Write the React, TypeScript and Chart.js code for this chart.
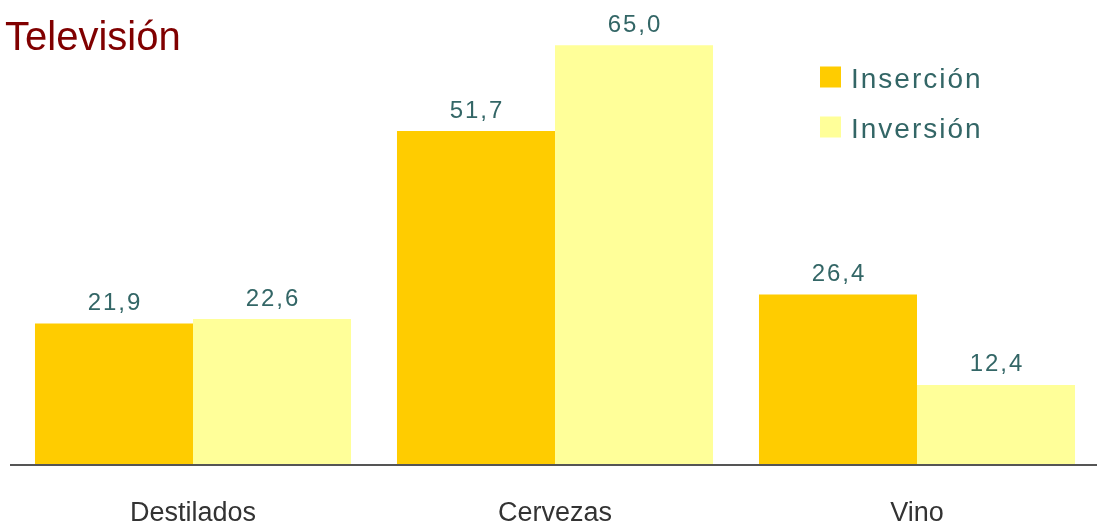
import React, { useEffect, useRef } from "react";
import { Chart, registerables } from "chart.js";

Chart.register(...registerables);

const categories = ["Destilados", "Cervezas", "Vino"];
const seriesNames = ["Inserción", "Inversión"];
const insercion = [21.9, 51.7, 26.4];
const inversion = [22.6, 65.0, 12.4];
const seriesColors = ["#FFCC00", "#FFFF99"];
const titleText = "Televisión";

const FONT = "'Liberation Sans', Arial, sans-serif";

const overlayPlugin = {
  id: "overlay",
  afterDraw(chart: any) {
    const ctx = chart.ctx as CanvasRenderingContext2D;
    const area = chart.chartArea;
    ctx.save();
    // axis line
    ctx.strokeStyle = "#555555";
    ctx.lineWidth = 2;
    ctx.beginPath();
    ctx.moveTo(10, area.bottom);
    ctx.lineTo(1097, area.bottom);
    ctx.stroke();

    // title
    ctx.fillStyle = "#800000";
    ctx.font = `40px ${FONT}`;
    ctx.textAlign = "left";
    ctx.textBaseline = "alphabetic";
    ctx.fillText(titleText, 5, 50);

    // legend
    const legendY = [87.5, 137.5];
    ctx.font = `28px ${FONT}`;
    (ctx as any).letterSpacing = "2px";
    seriesNames.forEach((name, i) => {
      ctx.fillStyle = seriesColors[i];
      ctx.fillRect(820, legendY[i] - 21, 21, 21);
      ctx.fillStyle = "#336666";
      ctx.fillText(name, 851, legendY[i]);
    });

    // data labels
    ctx.font = `24px ${FONT}`;
    (ctx as any).letterSpacing = "2px";
    ctx.textAlign = "center";
    ctx.fillStyle = "#336666";
    chart.data.datasets.forEach((ds: any, di: number) => {
      const meta = chart.getDatasetMeta(di);
      meta.data.forEach((bar: any, i: number) => {
        const v = ds.data[i] as number;
        const txt = v.toFixed(1).replace(".", ",");
        ctx.fillText(txt, bar.x + 1, bar.y - 13.5);
      });
    });
    ctx.restore();
  },
};

export default function App() {
  const ref = useRef<HTMLCanvasElement | null>(null);
  useEffect(() => {
    if (!ref.current) return;
    const chart = new Chart(ref.current, {
      type: "bar",
      data: {
        labels: categories,
        datasets: [
          { label: seriesNames[0], data: insercion, backgroundColor: seriesColors[0] },
          { label: seriesNames[1], data: inversion, backgroundColor: seriesColors[1] },
        ],
      },
      options: {
        responsive: true,
        maintainAspectRatio: false,
        animation: false,
        layout: { padding: { left: 12, right: 0, top: 0, bottom: 0 } },
        datasets: { bar: { categoryPercentage: 0.873, barPercentage: 1 } },
        plugins: { legend: { display: false }, title: { display: false }, tooltip: { enabled: false } },
        scales: {
          x: {
            grid: { display: false, drawTicks: false },
            border: { display: false },
            ticks: { color: "#333333", font: { family: FONT, size: 27 }, padding: 32 },
            afterFit: (scale: any) => {
              scale.height = 62;
            },
          },
          y: { display: false, min: 0, max: 72 },
        },
      },
      plugins: [overlayPlugin],
    });
    return () => chart.destroy();
  }, []);
  return (
    <div style={{ position: "absolute", left: 0, top: 0, width: 1098, height: 527 }}>
      <canvas ref={ref} />
    </div>
  );
}
